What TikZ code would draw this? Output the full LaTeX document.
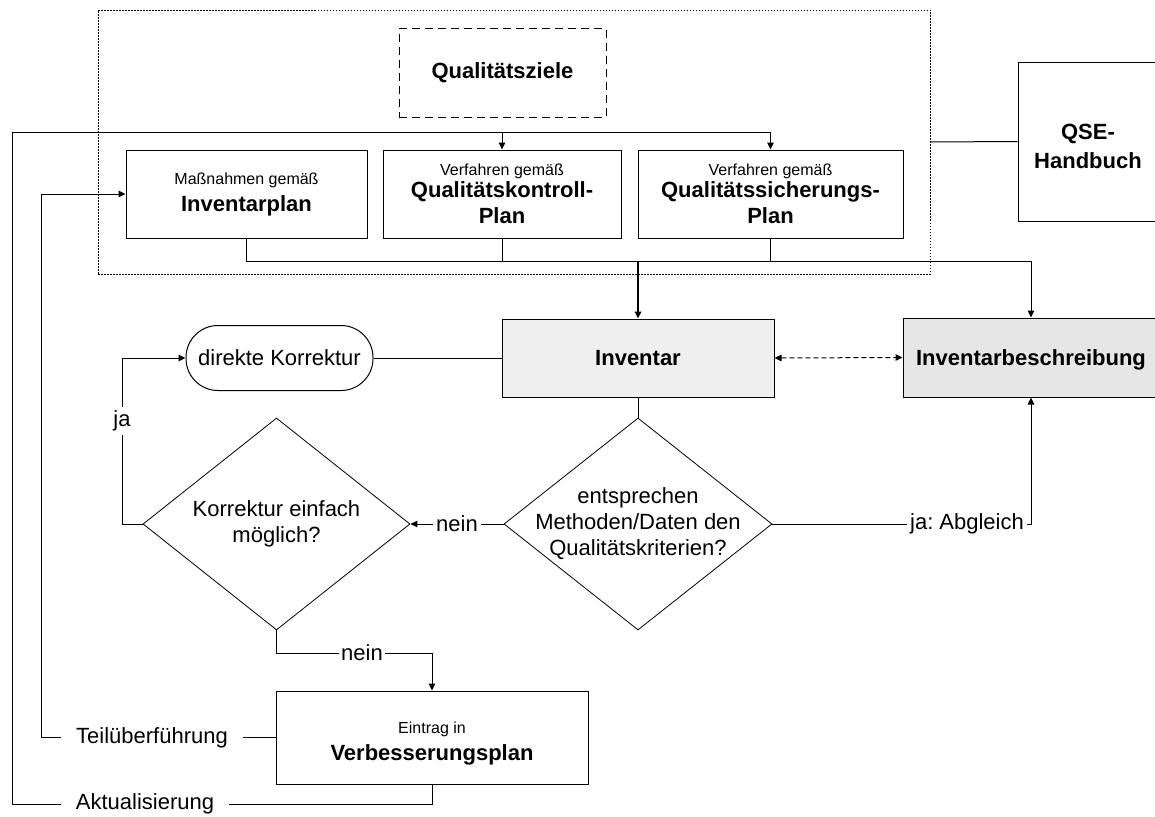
\documentclass[tikz,border=0pt]{standalone}
\usepackage{fontspec}
\setmainfont{Liberation Sans}
\usetikzlibrary{shapes.geometric,arrows.meta}
\definecolor{invgrey}{RGB}{239,239,239}
\definecolor{descgrey}{RGB}{230,230,230}

\begin{document}
\begin{tikzpicture}[x=1pt,y=1pt,yscale=-1,xscale=1,
	every node/.style={font=\fontsize{22}{26}\selectfont},
	>={Triangle[length=7pt,width=6.5pt]},
	box/.style={draw,line width=1pt,inner sep=0pt,align=center,minimum height=88pt},
	decision/.style={diamond,draw,line width=0.8pt,inner sep=0pt,minimum width=268pt,minimum height=212pt},
	gap/.style={inner xsep=14.5pt,inner ysep=0pt}]
	\useasboundingbox (0,0) rectangle (1155,816);

	%Shape: dotted frame round the plans
	\node[draw,line width=0.8pt,dash pattern=on 1.5pt off 1.5pt,minimum width=832pt,minimum height=264pt,inner sep=0pt] (frame) at (514,142) {};
	%Shape: Rectangle, dashed
	\node[box,dash pattern=on 8pt off 5pt,minimum width=207pt] (ziele) at (502.5,73) {\textbf{Qualitätsziele}};

	%Shape: Rectangle
	\node[box,minimum width=241pt] (invplan) at (246.5,194) {{\fontsize{16}{19}\selectfont Maßnahmen gemäß}\\[1pt]\textbf{Inventarplan}};
	%Shape: Rectangle
	\node[box,minimum width=238pt] (qkplan) at (502,194) {{\fontsize{16}{19}\selectfont Verfahren gemäß}\\[-4pt]\textbf{Qualitätskontroll-}\\\textbf{Plan}};
	%Shape: Rectangle
	\node[box,minimum width=265pt] (qsplan) at (770.5,194) {{\fontsize{16}{19}\selectfont Verfahren gemäß}\\[-4pt]\textbf{Qualitätssicherungs-}\\\textbf{Plan}};
	%Shape: Rectangle
	\node[box,minimum width=140pt,minimum height=159pt] (qse) at (1088,141.5) {};
	% Text Node
	\node[align=center] (qsetxt) at (1088,146) {\textbf{QSE-}\\[3pt]\textbf{Handbuch}};

	%Shape: Rectangle, filled
	\node[box,fill=invgrey,minimum width=272pt,minimum height=78pt] (inventar) at (638,358) {\textbf{Inventar}};
	%Shape: Rectangle, filled
	\node[box,fill=descgrey,minimum width=256pt,minimum height=79pt,text depth=0pt] (invbeschr) at (1031,357.5) {\textbf{Inventarbeschreibung}};
	%Shape: Rounded Rectangle
	\node[draw,line width=1pt,rounded corners=32pt,minimum width=187pt,minimum height=65pt,inner sep=0pt] (korr) at (279.5,358) {direkte Korrektur};

	%Shape: Diamond
	\node[decision] (dec1) at (638,524) {};
	\node[align=center] (dec1txt) at (dec1) {entsprechen\\Methoden/Daten den\\Qualitätskriterien?};
	%Shape: Diamond
	\node[decision,minimum width=267pt] (dec2) at (276.5,524) {};
	\node[align=center] (dec2txt) at (dec2) {Korrektur einfach\\möglich?};

	%Shape: Rectangle
	\node[box,minimum width=312pt,minimum height=93pt] (verb) at (432,737.5) {};
	% Text Node
	\node[align=center] (verbtxt) at (432,744) {{\fontsize{16}{19}\selectfont Eintrag in}\\[1pt]\textbf{Verbesserungsplan}};

	% Text Node
	\node[gap] (akt) at (145,804) {Aktualisierung};
	% Text Node
	\node[gap] (teil) at (152,737.5) {Teilüberführung};
	% Text Node
	\node[inner sep=3pt] (nein1) at (457,524) {nein};
	% Text Node
	\node[inner sep=2pt] (nein2) at (362,653) {nein};
	% Text Node
	\node[inner sep=3pt] (abgl) at (967,524) {ja:\ Abgleich};
	% Text Node
	\node[inner xsep=0pt,inner ysep=4pt] (ja) at (122,421) {ja};

	\coordinate (fbA) at (12,132);
	\coordinate (fbB) at (41,194);
	\coordinate (bus) at (0,261);

	% feedback loops
	\draw[line width=1pt] (verb.south) |- (akt.east);
	\draw[line width=1pt,->] (akt.west) -| (fbA) -| (qsplan.north);
	\draw[line width=1pt,->] (qkplan.north |- fbA) -- (qkplan.north);
	\draw[line width=1pt] (verb.west) -- (teil.east);
	\draw[line width=1pt,->] (teil.west) -| (fbB) -- (invplan.west);

	% plans down to the inventory
	\draw[line width=1pt,->] (invplan.south) |- (bus -| invbeschr.north) -- (invbeschr.north);
	\draw[line width=1pt] (qkplan.south) -- (qkplan.south |- bus);
	\draw[line width=1pt] (qsplan.south) -- (qsplan.south |- bus);
	\draw[line width=1.8pt,->] (inventar.north |- bus) -- (inventar.north);
	\draw[line width=1pt] (frame.east) -- (qse.west);

	% checks
	\draw[line width=1pt,dash pattern=on 5pt off 3pt,<->] (inventar.east) -- (invbeschr.west);
	\draw[line width=1pt] (korr.east) -- (inventar.west);
	\draw[line width=1pt] (inventar.south) -- (dec1.north);
	\draw[line width=1pt] (dec1.west) -- (nein1.east);
	\draw[line width=1pt,->] (nein1.west) -- (dec2.east);
	\draw[line width=1pt] (dec1.east) -- (abgl.west);
	\draw[line width=1pt,->] (abgl.east) -| (invbeschr.south);
	\draw[line width=1pt] (dec2.west) -| (ja.south);
	\draw[line width=1pt,->] (ja.north) |- (korr.west);
	\draw[line width=1pt] (dec2.south) |- (nein2.west);
	\draw[line width=1pt,->] (nein2.east) -| (verb.north);

\end{tikzpicture}
\end{document}
